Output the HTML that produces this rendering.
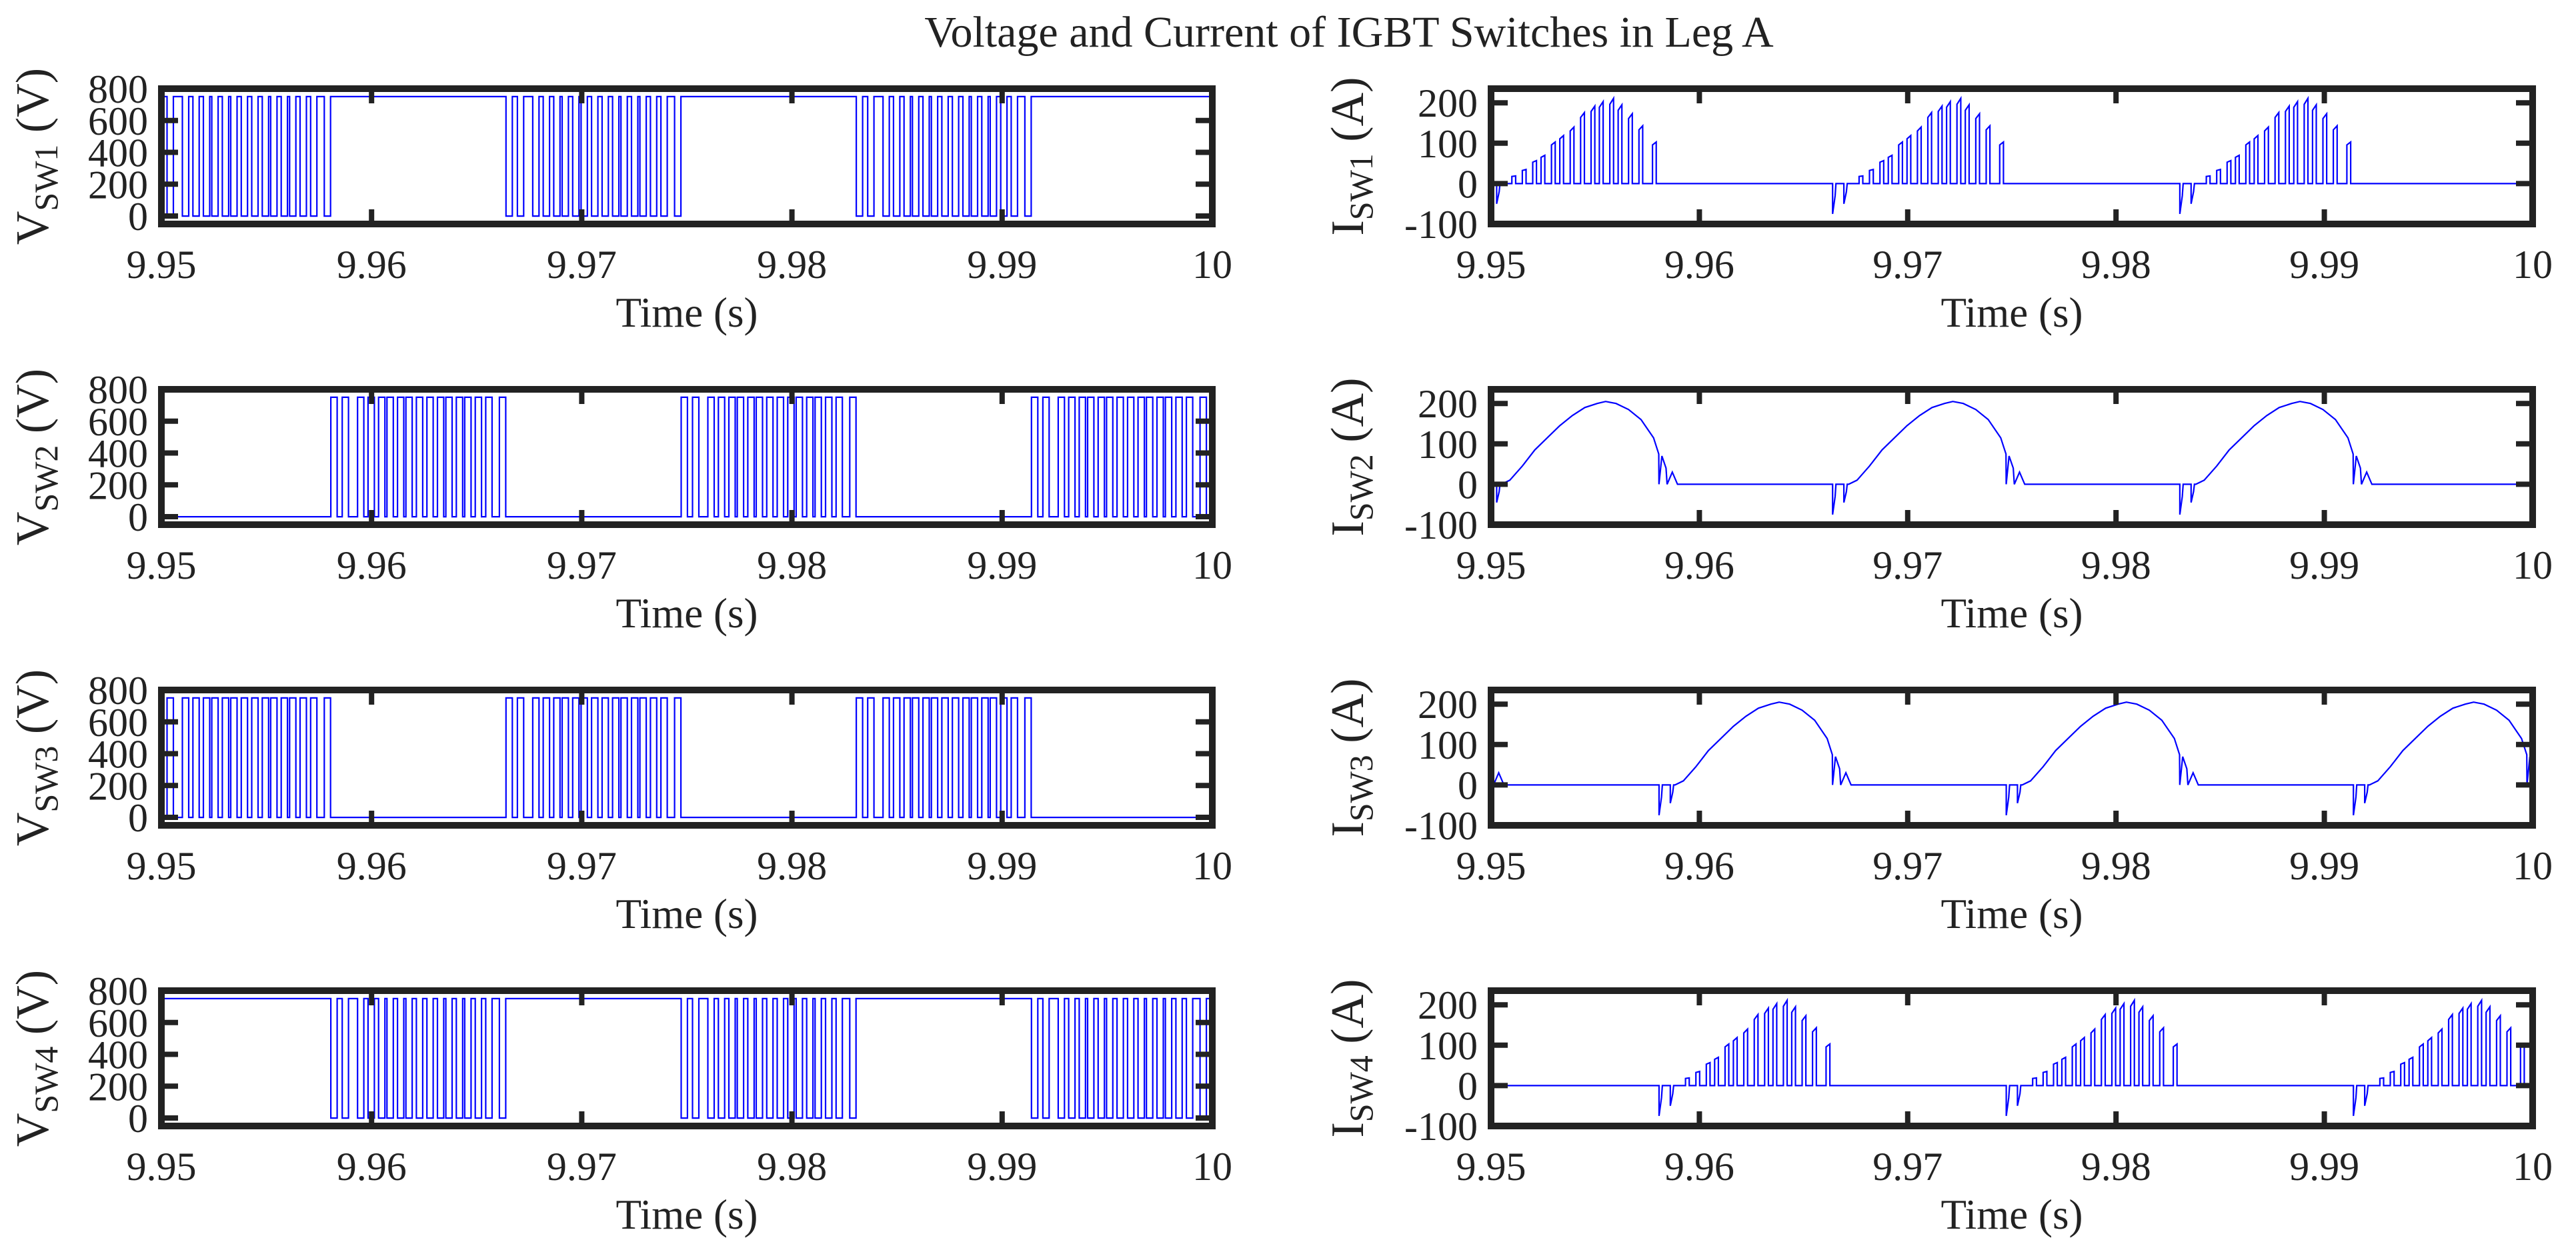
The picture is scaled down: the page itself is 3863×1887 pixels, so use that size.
<!DOCTYPE html>
<html><head><meta charset="utf-8"><style>
html,body{margin:0;padding:0;background:#fff;}
svg{display:block;font-family:"Liberation Serif","Times New Roman",serif;}
</style></head><body>
<svg id="fig" width="3863" height="1887" viewBox="0 0 3863 1887" xmlns="http://www.w3.org/2000/svg">
<rect x="0" y="0" width="3863" height="1887" fill="#fff"/>
<text x="2023" y="70" font-size="66" text-anchor="middle" fill="#222">Voltage and Current of IGBT Switches in Leg A</text>
<g id="plots"></g>
</svg>
<script>
// ---- data ----
const xTicks = [9.95, 9.96, 9.97, 9.98, 9.99, 10];
const xTickLabels = ["9.95", "9.96", "9.97", "9.98", "9.99", "10"];
const vTicks = [0, 200, 400, 600, 800];
const vTickLabels = ["0", "200", "400", "600", "800"];
const iTicks = [-100, 0, 100, 200];
const iTickLabels = ["-100", "0", "100", "200"];
const vHigh = 750;
// start of each switching period (s): family A = SW1/SW2 conduction windows, family B = SW3/SW4
const tStartsA = [9.95, 9.966667, 9.983333];
const tStartsB = [9.941667, 9.958333, 9.975, 9.991667];
// pulse offsets inside a window (ms) and current peak of each pulse (A)
const pulseOff = [-0.27, 0.27, 1.0, 1.5, 2.0, 2.4, 2.9, 3.3, 3.8, 4.3, 4.8, 5.2, 5.7, 6.1, 6.6, 7.1, 7.75];
const pulseAmp = [-75, -50, 19, 35, 57, 70, 103, 119, 140, 176, 192, 203, 211, 195, 173, 143, 103];
// continuous current hump of the complementary switch (ms, A)
const humpT = [0.5, 0.9, 1.5, 2.1, 2.7, 3.3, 3.9, 4.5, 5.1, 5.5, 6.0, 6.6, 7.2, 7.8, 8.05, 8.06, 8.2, 8.4, 8.45, 8.7, 8.95];
const humpV = [0, 10, 45, 85, 115, 145, 170, 190, 200, 205, 200, 185, 160, 115, 75, 0, 70, 40, 0, 30, 0];
const spikeOff = [-0.27, 0.27];
const spikeAmp = [-75, -45];

// ---- layout ----
const colX = [[242, 1818], [2236, 3798]];
const rowTop = [133, 584, 1035, 1486];
const boxH = 203;
const pulseW = 0.18, lowW = 0.3;
const NS = "http://www.w3.org/2000/svg";
const root = document.getElementById('plots');

function mk(tag, attrs, parent) {
  const e = document.createElementNS(NS, tag);
  for (const k in attrs) e.setAttribute(k, attrs[k]);
  parent.appendChild(e);
  return e;
}

function vWave(starts) { // voltage that drops to 0 during each conduction pulse
  const pts = [[9.94, vHigh]];
  starts.forEach(s => pulseOff.forEach(o => {
    const t = s + o / 1000, w = lowW / 1000;
    pts.push([t, vHigh], [t, 0], [t + w, 0], [t + w, vHigh]);
  }));
  pts.push([10.01, vHigh]);
  return pts;
}
function iPulses(starts) {
  const pts = [[9.94, 0]];
  starts.forEach(s => pulseOff.forEach((o, k) => {
    const t = s + o / 1000, a = pulseAmp[k];
    if (a < 0) pts.push([t, 0], [t, a], [t + 0.00012, a * 0.4], [t + 0.00016, 0]);
    else pts.push([t, 0], [t, a * 0.93], [t + pulseW / 1000, a], [t + pulseW / 1000, 0]);
  }));
  pts.push([10.01, 0]);
  return pts;
}
function iHump(starts) {
  const pts = [[9.94, 0]];
  starts.forEach(s => {
    spikeOff.forEach((o, k) => {
      const t = s + o / 1000, a = spikeAmp[k];
      pts.push([t, 0], [t, a], [t + 0.00012, a * 0.4], [t + 0.00016, 0]);
    });
    humpT.forEach((o, k) => pts.push([s + o / 1000, humpV[k]]));
  });
  pts.push([10.01, 0]);
  return pts;
}

const panels = [
  {row:0,col:0,sub:"SW1",unit:"V",pts:vWave(tStartsA)},
  {row:1,col:0,sub:"SW2",unit:"V",pts:vWave(tStartsB).map(p=>[p[0],vHigh-p[1]])},
  {row:2,col:0,sub:"SW3",unit:"V",pts:vWave(tStartsA).map(p=>[p[0],vHigh-p[1]])},
  {row:3,col:0,sub:"SW4",unit:"V",pts:vWave(tStartsB)},
  {row:0,col:1,sub:"SW1",unit:"A",pts:iPulses(tStartsA)},
  {row:1,col:1,sub:"SW2",unit:"A",pts:iHump(tStartsA)},
  {row:2,col:1,sub:"SW3",unit:"A",pts:iHump(tStartsB)},
  {row:3,col:1,sub:"SW4",unit:"A",pts:iPulses(tStartsB)}
];

panels.forEach((p, idx) => {
  const [x0, x1] = colX[p.col];
  const yT = rowTop[p.row], yB = yT + boxH;
  const isV = p.unit === "V";
  const yMin = isV ? -50 : -100, yMax = isV ? 800 : 235;
  const X = t => x0 + (t - 9.95) / 0.05 * (x1 - x0);
  const Y = v => yB - (v - yMin) / (yMax - yMin) * boxH;
  const name = (isV ? 'voltage-' : 'current-') + p.sub.toLowerCase();
  const g = mk('g', {}, root);
  
  
  const cid = 'clip' + idx;
  const cp = mk('clipPath', {id: cid}, g);
  mk('rect', {x: x0, y: yT, width: x1 - x0, height: boxH}, cp);
  // series
  const d = p.pts.map((q, k) => (k ? 'L' : 'M') + X(q[0]).toFixed(1) + ' ' + Y(q[1]).toFixed(1)).join('');
  const path = mk('path', {d: d, fill: 'none', stroke: '#0000ff', 'stroke-width': 2.2, 'clip-path': 'url(#' + cid + ')'}, g);
  
  
  // box
  const box = mk('rect', {x: x0, y: yT, width: x1 - x0, height: boxH, fill: 'none', stroke: '#222', 'stroke-width': 10}, g);
  
  
  // x ticks
  xTicks.forEach((t, k) => {
    const xx = X(t);
    mk('line', {x1: xx, y1: yT, x2: xx, y2: yT + 22, stroke: '#222', 'stroke-width': 8}, g);
    mk('line', {x1: xx, y1: yB, x2: xx, y2: yB - 22, stroke: '#222', 'stroke-width': 8}, g);
    const tl = mk('text', {x: xx, y: yB + 81, 'font-size': 60, 'text-anchor': 'middle', fill: '#222'}, g);
    tl.textContent = xTickLabels[k];
    
    
  });
  // y ticks
  const yt = isV ? vTicks : iTicks, ytl = isV ? vTickLabels : iTickLabels;
  yt.forEach((v, k) => {
    const yy = Y(v);
    mk('line', {x1: x0, y1: yy, x2: x0 + 25, y2: yy, stroke: '#222', 'stroke-width': 8}, g);
    mk('line', {x1: x1, y1: yy, x2: x1 - 25, y2: yy, stroke: '#222', 'stroke-width': 8}, g);
    const tl = mk('text', {x: x0 - 20, y: yy + 21, 'font-size': 60, 'text-anchor': 'end', fill: '#222'}, g);
    tl.textContent = ytl[k];
    
    
  });
  // x label
  const xl = mk('text', {x: (x0 + x1) / 2, y: yB + 154, 'font-size': 63, 'text-anchor': 'middle', fill: '#222'}, g);
  xl.textContent = 'Time (s)';
  
  
  // y label
  const lx = p.col === 0 ? 72 : 2044;
  const cy = (yT + yB) / 2;
  const yl = mk('text', {x: lx, y: cy, 'font-size': 70, 'text-anchor': 'middle', fill: '#222', transform: 'rotate(-90 ' + lx + ' ' + cy + ')'}, g);
  
  
  const t1 = mk('tspan', {}, yl); t1.textContent = isV ? 'V' : 'I';
  const t2 = mk('tspan', {dy: 14, 'font-size': 50}, yl); t2.textContent = p.sub;
  const t3 = mk('tspan', {dy: -14}, yl); t3.textContent = ' (' + p.unit + ')';
});
</script>
</body></html>
